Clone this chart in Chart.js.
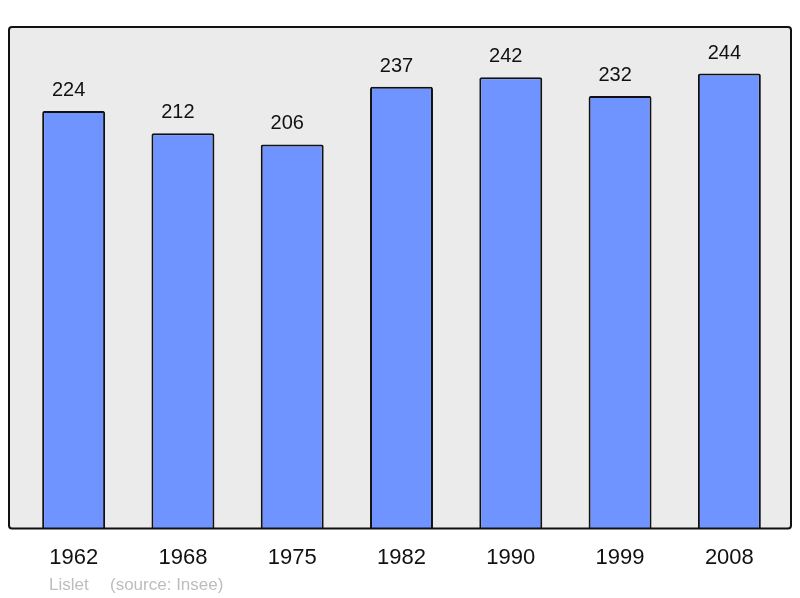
<!DOCTYPE html>
<html>
<head>
<meta charset="utf-8">
<script src="https://cdn.jsdelivr.net/npm/chart.js@4/dist/chart.umd.min.js"></script>
<style>
  html, body { margin: 0; padding: 0; background: #fff; }
  #wrap { width: 800px; height: 598px; }
</style>
</head>
<body>
<div id="wrap"><canvas id="popChart" width="800" height="598"></canvas></div>
<script>
// Population by census year
var years = ["1962", "1968", "1975", "1982", "1990", "1999", "2008"];
var population = [224, 212, 206, 237, 242, 232, 244];
var footerName = "Lislet";
var footerSource = "(source: Insee)";

// gray rounded panel behind the bars
var panelPlugin = {
    id: 'panel',
    beforeDraw: function (chart) {
        var ctx = chart.ctx, a = chart.chartArea;
        var x0 = a.left - 10, x1 = a.right + 7, y0 = a.top, y1 = a.bottom;
        ctx.save();
        ctx.beginPath();
        ctx.roundRect(x0, y0, x1 - x0, y1 - y0, 3);
        ctx.fillStyle = '#ebebeb';
        ctx.fill();
        ctx.restore();
    },
    afterDatasetsDraw: function (chart) {
        var ctx = chart.ctx, a = chart.chartArea;
        var x0 = a.left - 10, x1 = a.right + 7, y0 = a.top, y1 = a.bottom;
        ctx.save();
        ctx.beginPath();
        ctx.roundRect(x0, y0, x1 - x0, y1 - y0, 3);
        ctx.lineWidth = 2;
        ctx.strokeStyle = '#111';
        ctx.stroke();

        // value labels above bars (slightly left of centre, like the original)
        var meta = chart.getDatasetMeta(0);
        ctx.fillStyle = '#111';
        ctx.font = '20px "Liberation Sans", Arial, sans-serif';
        ctx.textAlign = 'center';
        ctx.textBaseline = 'alphabetic';
        meta.data.forEach(function (bar, i) {
            ctx.fillText(String(population[i]), bar.x - 5, bar.y - 15);
        });

        // footer
        ctx.fillStyle = '#bdbdbd';
        ctx.font = '17px "Liberation Sans", Arial, sans-serif';
        ctx.textAlign = 'left';
        ctx.fillText(footerName, 49, 590);
        ctx.fillText(footerSource, 110, 590);
        ctx.restore();
    }
};

var ctx = document.getElementById('popChart').getContext('2d');
var popChart = new Chart(ctx, {
    type: 'bar',
    data: {
        labels: years,
        datasets: [{
            data: population,
            backgroundColor: '#7094ff',
            borderColor: '#111',
            borderWidth: 2,
            borderSkipped: 'bottom',
            borderRadius: { topLeft: 2, topRight: 2 },
            barPercentage: 0.576,
            categoryPercentage: 1.0
        }]
    },
    options: {
        responsive: false,
        animation: false,
        layout: { padding: { left: 19, right: 16, top: 27, bottom: 11 } },
        scales: {
            x: {
                grid: { display: false, drawTicks: false },
                border: { display: false },
                ticks: {
                    color: '#111',
                    padding: 16,
                    font: { family: '"Liberation Sans", Arial, sans-serif', size: 22 }
                }
            },
            y: {
                display: false,
                min: 0,
                max: 269
            }
        },
        plugins: {
            legend: { display: false },
            tooltip: { enabled: false }
        }
    },
    plugins: [panelPlugin]
});
</script>
</body>
</html>
